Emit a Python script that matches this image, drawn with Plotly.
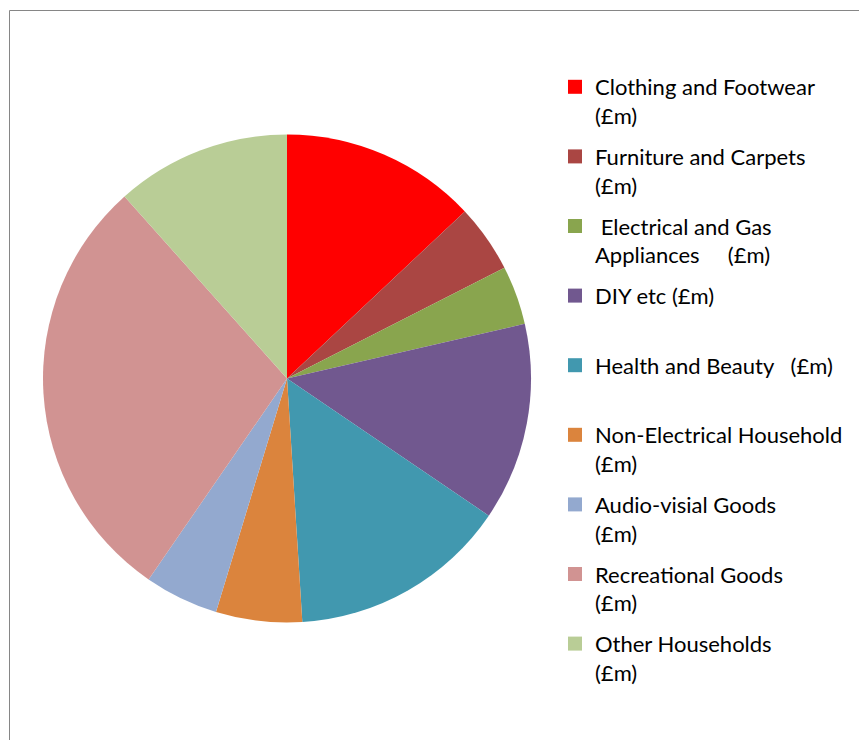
import plotly.graph_objects as go

NB = "\u00a0"
categories = [
    "Clothing and Footwear (£m)",
    "Furniture and Carpets (£m)",
    "Electrical and Gas Appliances (£m)",
    "DIY etc (£m)",
    "Health and Beauty (£m)",
    "Non-Electrical Household (£m)",
    "Audio-visial Goods (£m)",
    "Recreational Goods (£m)",
    "Other Households (£m)",
]
legend_labels = [
    "Clothing and Footwear<br>(£m)",
    "Furniture and Carpets<br>(£m)",
    NB + "Electrical and Gas<br>Appliances" + NB * 5 + "(£m)",
    "DIY etc (£m)<br>" + NB,
    "Health and Beauty" + NB * 3 + "(£m)<br>" + NB,
    "Non-Electrical Household<br>(£m)",
    "Audio-visial Goods<br>(£m)",
    "Recreational Goods<br>(£m)",
    "Other Households<br>(£m)",
]
values = [13.0, 4.5, 3.9, 13.1, 14.5, 5.7, 4.9, 28.8, 11.6]
colors = ["#FF0000", "#AA4643", "#89A54E", "#71588F", "#4198AF",
          "#DB843D", "#93A9CF", "#D19392", "#B9CD96"]

W, H = 859, 740
cx, cy, r = 287, 378.5, 244

fig = go.Figure()
fig.add_trace(go.Pie(
    labels=categories, values=values, sort=False, direction="clockwise",
    rotation=0, marker=dict(colors=colors, line=dict(width=0)),
    textinfo="none", showlegend=False, hoverinfo="label+value",
    domain=dict(x=[(cx - r) / W, (cx + r) / W],
                y=[(H - cy - r) / H, (H - cy + r) / H]),
))
for i, (lab, col) in enumerate(zip(legend_labels, colors)):
    fig.add_trace(go.Scatter(
        x=[None], y=[None], mode="markers", name=lab,
        legendgroup=f"g{i}",
        marker=dict(symbol="square", size=14, color=col),
    ))

fig.update_layout(
    width=W, height=H,
    margin=dict(l=0, r=0, t=0, b=0),
    paper_bgcolor="white", plot_bgcolor="white",
    xaxis=dict(visible=False, domain=[0.99, 1]),
    yaxis=dict(visible=False, domain=[0.99, 1]),
    showlegend=True,
    legend=dict(
        x=555 / W, xanchor="left", y=1 - 66 / H, yanchor="top",
        traceorder="grouped", tracegroupgap=9.4, valign="top",
        itemwidth=30,
        font=dict(family="Lato, Open Sans, sans-serif", size=22, color="#000000"),
        bgcolor="rgba(0,0,0,0)",
    ),
    shapes=[dict(type="rect", xref="paper", yref="paper",
                 x0=9.5 / W, x1=1.05, y0=-0.05, y1=1 - 10.5 / H,
                 line=dict(color="#868686", width=1), fillcolor="rgba(0,0,0,0)",
                 layer="below")],
)
fig.write_html("out.html", config={"displayModeBar": False},
               post_script="document.body.style.margin='0px';")
